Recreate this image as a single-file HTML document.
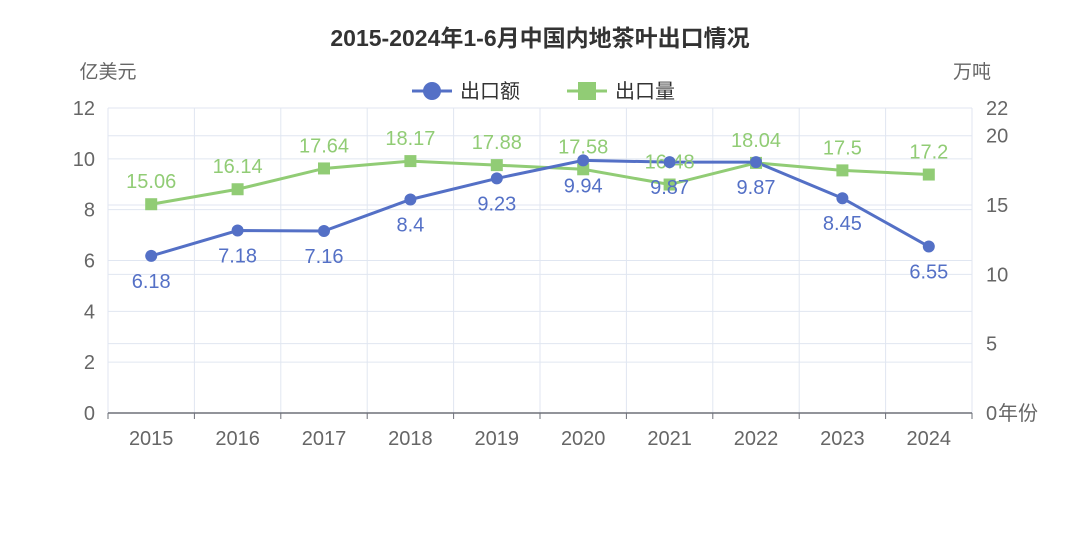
<!DOCTYPE html>
<html><head><meta charset="utf-8"><style>
body{margin:0;background:#fff;}
svg text{font-family:"Liberation Sans","Noto Sans CJK SC",sans-serif;}
</style></head><body>
<svg id="c" width="1080" height="540" xmlns="http://www.w3.org/2000/svg">
<text x="540" y="46" text-anchor="middle" font-size="23" font-weight="bold" fill="#333">2015-2024年1-6月中国内地茶叶出口情况</text>
<text x="108" y="78" text-anchor="middle" font-size="19" fill="#666">亿美元</text>
<text x="972" y="78" text-anchor="middle" font-size="19" fill="#666">万吨</text>
<g><line x1="412" y1="91" x2="452" y2="91" stroke="#5470c6" stroke-width="3"/><circle cx="432" cy="91" r="9" fill="#5470c6"/><text x="460" y="98" font-size="20" fill="#333">出口额</text></g>
<g><line x1="567" y1="91" x2="607" y2="91" stroke="#91cc75" stroke-width="3"/><rect x="578" y="82" width="18" height="18" fill="#91cc75"/><text x="615" y="98" font-size="20" fill="#333">出口量</text></g>
<g id="grid"></g><g id="axes"></g><g id="series"></g>
</svg>
<script>
const categories=["2015","2016","2017","2018","2019","2020","2021","2022","2023","2024"];
const valueSeries=[6.18,7.18,7.16,8.4,9.23,9.94,9.87,9.87,8.45,6.55];
const volumeSeries=[15.06,16.14,17.64,18.17,17.88,17.58,16.48,18.04,17.5,17.2];
const leftTicks=[0,2,4,6,8,10,12];
const rightTicks=[0,5,10,15,20,22];
const NS="http://www.w3.org/2000/svg";
const L=108,R=972,T=108,B=413;
const bw=(R-L)/categories.length;
const xs=i=>L+bw*(i+0.5);
const yl=v=>B-(B-T)*v/12;
const yr=v=>B-(B-T)*v/22;
function mk(p,tag,a,txt){const e=document.createElementNS(NS,tag);for(const k in a)e.setAttribute(k,a[k]);if(txt!==undefined)e.textContent=txt;document.getElementById(p).appendChild(e);return e;}
leftTicks.forEach(v=>{
 const g=mk('grid','line',{x1:L,x2:R,y1:yl(v),y2:yl(v),stroke:'#e0e6f1'});
 
 
 const t=mk('axes','text',{x:L-13,y:yl(v)+7,'text-anchor':'end','font-size':20,fill:'#666'},v);
 
 
});
rightTicks.forEach(v=>{
 const g=mk('grid','line',{x1:L,x2:R,y1:yr(v),y2:yr(v),stroke:'#e0e6f1'});
 
 
 const t=mk('axes','text',{x:R+14,y:yr(v)+7,'font-size':20,fill:'#666'},v);
 
 
});
for(let i=0;i<=categories.length;i++){
 const x=L+bw*i;
 const g=mk('grid','line',{x1:x,x2:x,y1:T,y2:B,stroke:'#e0e6f1'});
 
 
 const k=mk('axes','line',{x1:x,x2:x,y1:B,y2:B+6,stroke:'#6e7079'});
 
 
}
const ax=mk('axes','line',{x1:L,x2:R,y1:B,y2:B,stroke:'#6e7079','stroke-width':1.5});


const xn=mk('axes','text',{x:R+26,y:B+7,'font-size':20,fill:'#666'},'年份');


categories.forEach((c,i)=>{
 const t=mk('axes','text',{x:xs(i),y:B+32,'text-anchor':'middle','font-size':20,fill:'#666'},c);
 
 
});
const gp=mk('series','polyline',{points:volumeSeries.map((v,i)=>xs(i)+','+yr(v)).join(' '),fill:'none',stroke:'#91cc75','stroke-width':3});


const bp=mk('series','polyline',{points:valueSeries.map((v,i)=>xs(i)+','+yl(v)).join(' '),fill:'none',stroke:'#5470c6','stroke-width':3});


volumeSeries.forEach((v,i)=>{
 const r=mk('series','rect',{x:xs(i)-6,y:yr(v)-6,width:12,height:12,fill:'#91cc75'});
 
 
 const t=mk('series','text',{x:xs(i),y:yr(v)-16,'text-anchor':'middle','font-size':20,fill:'#91cc75'},v);
 
 
});
valueSeries.forEach((v,i)=>{
 const c=mk('series','circle',{cx:xs(i),cy:yl(v),r:6,fill:'#5470c6'});
 
 
 const t=mk('series','text',{x:xs(i),y:yl(v)+32,'text-anchor':'middle','font-size':20,fill:'#5470c6'},v);
 
 
});
</script>
</body></html>
